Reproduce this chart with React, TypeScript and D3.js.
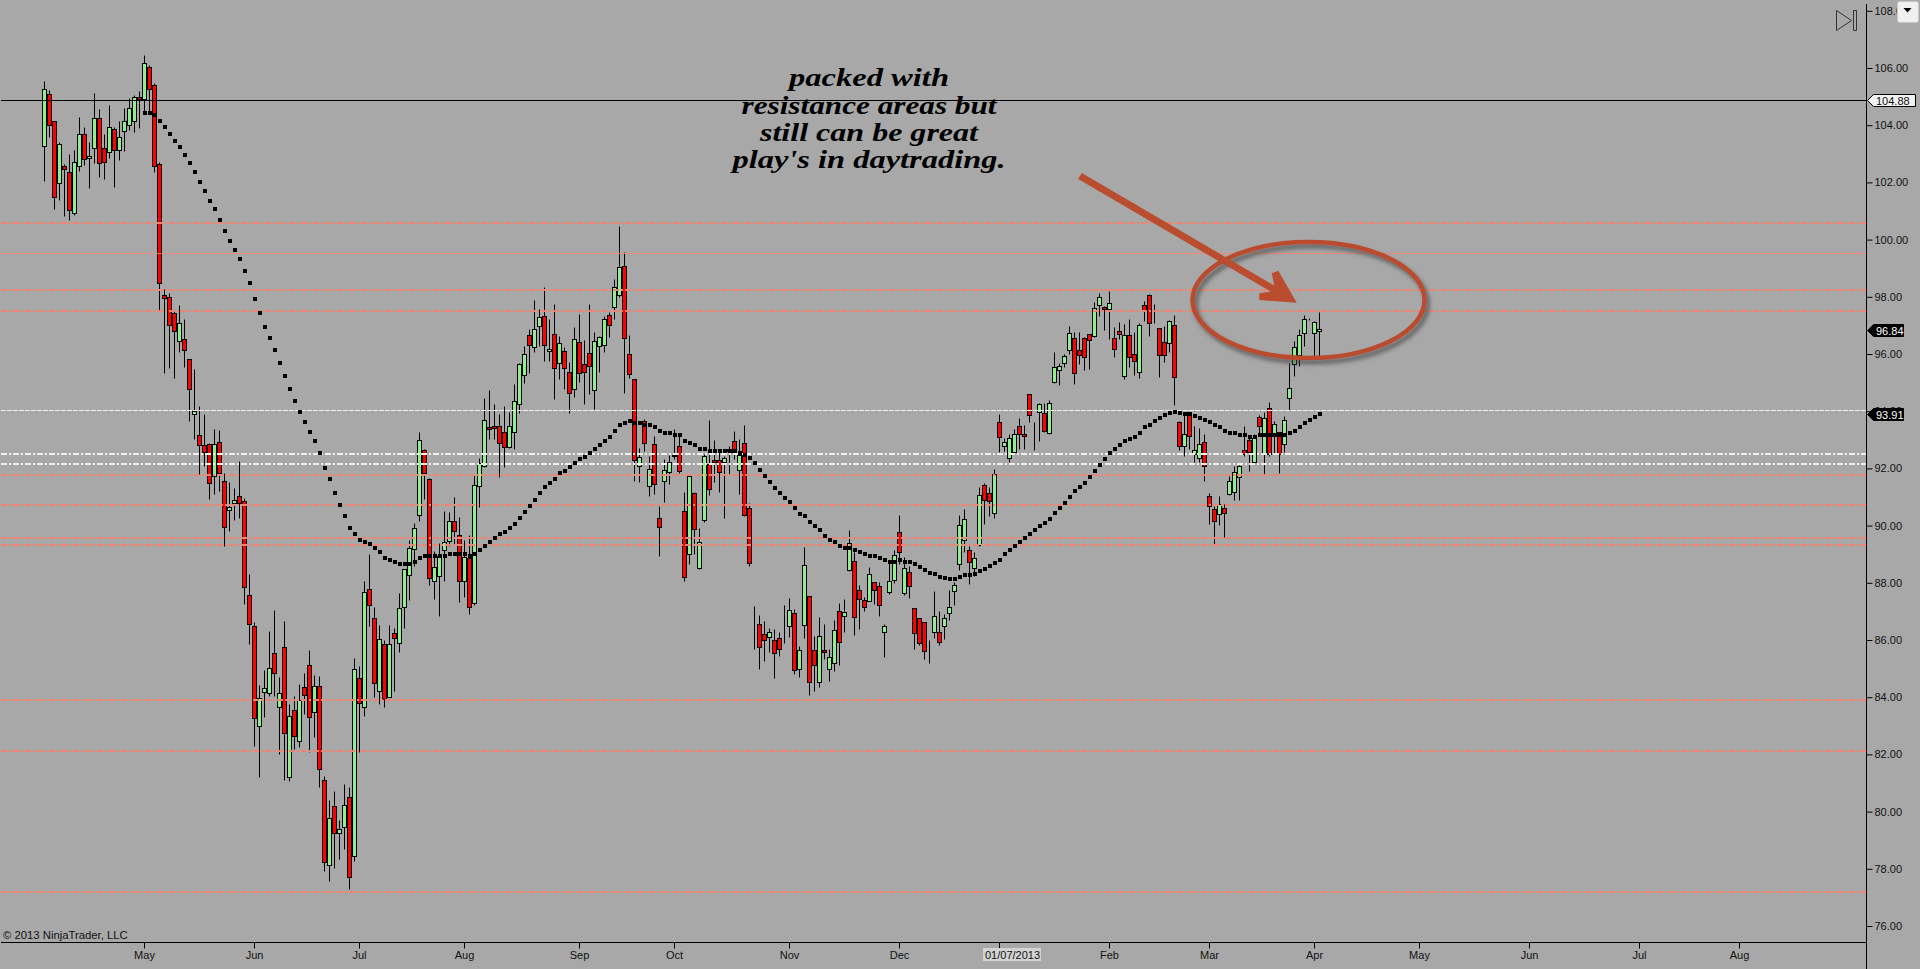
import { useEffect, useRef } from "react";
import * as d3 from "d3";

const highs = [
  105.54,105.23,104.13,103.43,102.64,102.98,103.15,104.27,103.92,103.40,
  105.11,104.55,103.68,104.69,103.92,104.13,104.59,104.94,105.04,105.19,
  106.45,106.10,105.47,102.73,98.27,98.15,97.51,97.71,97.22,95.84,
  95.49,94.17,93.89,92.88,93.37,93.33,91.85,91.54,91.33,92.25,
  90.95,88.31,86.62,84.43,84.95,86.30,87.05,84.70,86.65,83.76,
  84.03,84.46,84.84,85.64,84.78,84.74,81.23,80.41,80.72,79.72,
  80.97,80.86,85.36,85.08,88.05,89.01,87.14,86.54,85.99,86.54,
  86.41,87.64,88.50,89.50,90.09,93.26,92.68,91.65,89.10,89.38,
  90.50,90.46,90.99,90.31,89.50,89.67,91.77,92.36,94.45,94.73,
  94.24,93.90,94.18,93.96,94.95,95.67,96.29,96.87,97.89,97.57,
  98.33,97.21,97.74,96.62,96.23,95.71,96.93,97.39,96.48,97.74,
  96.76,96.62,97.34,97.46,98.61,100.46,99.55,96.65,95.13,92.70,
  93.73,92.44,93.12,90.70,92.33,92.48,93.38,93.14,91.16,91.75,
  91.16,89.92,92.49,93.69,93.00,92.62,92.44,92.79,93.32,93.03,
  93.52,90.78,87.19,86.88,86.67,86.41,86.39,86.27,87.23,87.47,
  87.09,85.78,89.25,87.55,86.15,86.80,86.56,85.69,86.70,87.28,
  87.42,89.85,89.07,87.91,87.49,88.54,88.02,88.02,86.56,88.78,
  89.15,90.36,88.89,88.60,87.11,86.76,86.64,86.00,87.72,87.02,
  86.91,87.74,88.02,90.36,90.58,89.30,89.07,91.34,91.48,91.34,
  91.97,93.90,93.08,93.20,93.38,93.75,93.53,94.61,93.61,94.28,
  94.28,94.38,96.06,95.68,96.00,96.99,96.76,96.76,96.58,96.71,
  97.83,98.15,97.69,98.21,96.93,97.13,97.05,97.24,96.76,97.10,
  97.86,98.10,97.75,96.90,96.99,97.20,97.36,93.67,93.96,93.98,
  93.47,93.41,93.19,91.13,90.69,91.02,90.75,91.74,92.07,92.12,
  93.49,93.14,93.20,93.86,93.96,94.31,93.67,93.26,93.84,95.68,
  96.46,96.87,97.38,97.26,97.17,97.46,
];

const bodyTops = [
  105.25,105.08,104.13,103.33,102.57,102.35,102.73,103.68,103.68,102.94,
  104.24,104.24,103.22,103.92,103.85,103.57,104.13,104.59,104.97,104.97,
  106.19,106.02,105.42,102.63,98.08,97.98,97.42,97.10,96.54,95.81,
  93.99,93.18,92.81,92.86,92.87,92.91,91.55,90.66,90.88,91.02,
  90.87,87.56,86.48,83.98,84.31,85.03,85.53,84.14,85.74,83.33,
  83.54,83.91,84.35,85.11,84.38,84.38,81.09,79.77,80.21,79.38,
  80.22,80.50,84.97,84.66,87.67,87.77,86.76,86.02,85.85,85.85,
  86.23,87.11,88.47,89.23,89.91,92.98,92.63,91.62,88.54,88.95,
  89.42,90.15,90.15,89.68,88.91,88.88,91.41,92.18,93.68,93.44,
  93.47,93.47,93.26,93.47,94.34,95.64,96.01,96.65,96.86,97.28,
  97.32,96.16,96.69,96.37,96.09,95.36,96.51,96.41,95.64,96.02,
  96.44,96.58,97.21,97.35,98.33,99.03,99.06,96.01,95.11,92.39,
  93.67,91.97,92.84,90.25,91.93,92.21,92.48,92.77,90.50,91.72,
  91.13,89.44,92.42,92.14,92.28,92.29,92.35,92.67,92.95,92.46,
  92.88,90.60,86.70,86.55,86.22,86.27,85.99,86.06,86.26,87.06,
  86.94,85.64,88.61,87.55,85.66,86.13,85.66,85.40,86.34,87.01,
  86.97,89.38,88.75,87.74,87.39,88.30,88.02,87.90,86.48,88.05,
  88.96,89.77,88.51,88.39,87.11,86.76,86.62,85.80,86.83,86.27,
  86.76,87.14,87.91,90.01,90.22,89.14,88.86,91.06,91.41,91.13,
  91.80,93.61,92.93,93.08,93.19,93.47,93.19,94.59,93.60,94.24,
  93.92,94.27,95.53,95.59,95.92,96.72,96.55,96.13,96.55,96.69,
  97.62,97.98,97.65,97.79,96.55,96.79,96.65,96.65,95.99,97.03,
  97.70,98.05,97.29,96.90,96.41,97.14,97.00,93.61,93.19,93.96,
  92.66,92.84,92.91,91.02,90.57,90.75,90.60,91.55,91.88,92.07,
  92.66,93.01,93.05,93.78,93.75,94.10,93.54,93.26,93.68,94.80,
  96.23,96.65,97.24,97.26,97.11,96.86,
];

const bodyBottoms = [
  103.28,104.01,101.50,101.99,102.48,101.04,100.94,102.56,102.83,102.84,
  103.19,102.69,102.73,103.08,103.12,103.12,103.78,103.99,104.13,104.90,
  104.90,105.25,102.56,98.49,97.97,97.02,96.81,96.46,96.15,94.78,
  93.91,92.83,92.58,91.50,91.72,91.85,89.94,90.56,90.80,90.78,
  87.84,86.55,83.26,82.98,84.17,84.14,84.84,83.65,82.74,81.20,
  82.63,82.46,84.07,83.30,83.47,81.48,78.23,78.12,79.24,79.24,
  79.47,77.70,78.46,83.79,83.67,87.24,84.49,84.23,83.93,84.02,
  86.08,85.88,87.14,88.29,89.17,90.36,91.85,88.16,88.08,88.23,
  89.13,89.45,89.80,88.07,88.07,87.14,87.28,91.37,92.07,93.37,
  93.40,92.90,92.76,92.74,93.26,94.24,95.25,96.30,96.23,96.97,
  96.30,96.09,95.50,95.67,95.50,94.62,94.76,95.32,95.38,95.57,
  94.73,96.27,96.30,97.03,97.63,98.05,96.55,95.29,92.28,92.07,
  92.90,91.37,91.47,89.94,91.55,91.86,92.45,91.92,88.21,89.00,
  89.89,88.53,90.21,91.27,92.21,91.86,92.21,92.60,92.56,91.93,
  90.38,88.70,86.70,85.77,85.99,86.10,85.54,85.68,86.26,86.48,
  84.94,84.98,86.52,84.52,85.12,84.52,85.57,84.98,85.19,85.92,
  86.83,88.44,86.80,87.42,87.14,87.37,87.74,87.21,86.27,87.69,
  88.11,89.06,87.66,87.88,86.26,85.91,85.61,85.80,86.27,85.92,
  86.48,86.96,87.70,88.67,89.49,88.71,88.51,89.31,90.89,90.85,
  90.43,93.11,92.80,92.38,92.56,93.22,93.12,93.85,93.60,93.96,
  93.32,93.25,95.01,95.45,95.67,96.13,95.34,95.95,95.90,96.48,
  96.62,97.70,97.56,97.56,96.18,96.69,95.22,95.88,95.74,95.36,
  97.50,97.07,97.29,95.95,95.97,96.37,95.21,92.80,92.77,93.12,
  92.52,92.38,92.07,90.69,90.15,90.39,90.43,91.09,91.16,91.69,
  92.52,92.56,92.24,93.49,92.50,92.51,93.12,92.51,92.86,94.47,
  95.64,95.95,96.72,97.26,96.72,96.79,
];

const lows = [
  102.06,103.60,101.07,101.38,100.83,100.68,100.87,102.39,102.60,101.81,
  102.67,102.18,102.11,102.85,101.84,102.78,103.09,103.84,103.76,103.91,
  104.45,104.50,102.37,97.55,95.34,95.51,95.16,96.08,95.55,93.67,
  93.02,91.80,92.09,90.93,91.10,91.22,89.30,89.82,90.21,90.28,
  87.26,85.86,82.31,81.22,83.32,84.05,84.05,82.01,81.12,81.08,
  82.19,82.27,83.41,82.07,82.60,80.87,77.94,77.59,78.04,78.34,
  78.69,77.29,78.29,82.07,83.34,86.50,84.02,83.75,83.66,84.00,
  84.23,85.59,86.43,87.41,88.60,90.17,90.93,87.93,87.43,86.85,
  88.08,89.30,89.36,87.32,87.52,86.91,87.24,90.64,92.04,93.03,
  93.03,91.71,92.06,92.70,92.68,93.94,95.00,95.35,96.07,96.29,
  95.77,95.77,94.44,95.13,94.78,93.95,94.48,95.01,94.25,94.60,
  94.08,95.36,96.06,96.58,97.22,97.98,94.65,95.17,91.57,91.51,
  92.60,91.05,91.10,88.95,90.81,91.45,92.33,91.84,88.07,88.66,
  89.01,88.50,90.11,91.07,91.51,91.16,90.27,91.80,92.33,91.10,
  90.35,88.60,85.69,84.97,85.25,85.57,84.67,85.44,85.90,86.10,
  84.81,84.72,86.07,84.06,84.23,84.37,85.34,84.58,84.93,85.11,
  86.27,88.42,86.19,86.39,87.03,87.35,87.26,86.85,85.39,87.62,
  88.01,88.66,87.59,87.48,85.69,85.83,85.33,85.21,86.07,85.84,
  86.04,86.70,87.23,88.46,89.07,87.97,88.23,89.29,90.06,90.35,
  90.28,92.57,92.61,92.23,92.54,92.68,92.68,93.63,92.64,92.96,
  93.26,93.22,95.00,94.91,95.55,96.01,94.95,95.65,95.45,95.47,
  96.60,97.34,96.85,96.52,95.90,96.52,95.12,95.53,95.26,95.16,
  97.16,96.64,97.10,95.21,95.71,96.06,94.21,92.64,92.44,92.68,
  92.21,92.21,91.57,90.05,89.35,90.03,89.59,91.07,90.90,90.90,
  92.44,91.91,92.18,93.14,91.81,92.44,92.50,91.84,92.56,94.03,
  95.24,95.59,96.29,97.20,95.94,95.94,
];

// G = up bar, R = down bar
const directions =
  "GRRGRRGGRG" + "GRRGRGGGGR" + "GRRRRRRGRR" + "GRRRGRRGGR" + "RRRGGGRGRG" +
  "RGRRGRRGRG" + "GRGRGRRGRG" + "RGGGGGRRGG" + "GGRRGRGGGR" + "RRRGGGGRGG" +
  "RGRGRRGRRR" + "GGGRGGRRRG" + "RGRRGGRRRG" + "RGGRRRGGRG" + "RRRRRGRRRG" +
  "RGGRRGRGGR" + "GGRRRGRRGG" + "GRGRRRRRGR" + "GGGGGRGGRR" + "GRGGGRRRRG" +
  "RGGGGGRRRR" + "GGRGRRGRRG" + "RRRRRGRRGR" + "GGRRRGRGGG" + "RRGRGRGRGG" +
  "GGGGGG";

// moving average, starts at bar 20
const maStart = 20;
const maValues = [
  104.46,104.46,104.39,104.18,103.97,103.72,103.48,103.27,102.99,102.71,
  102.39,102.04,101.73,101.35,101.07,100.72,100.33,99.98,99.67,99.35,
  98.93,98.51,97.95,97.46,96.97,96.56,96.14,95.72,95.26,94.81,
  94.39,94.00,93.65,93.30,92.99,92.57,92.04,91.63,91.17,90.75,
  90.37,89.92,89.74,89.53,89.46,89.39,89.22,89.11,88.90,88.80,
  88.73,88.66,88.66,88.66,88.73,88.87,88.97,88.94,88.94,88.94,
  88.94,89.01,89.04,89.01,89.01,88.94,89.01,89.15,89.29,89.43,
  89.57,89.71,89.81,89.95,90.09,90.30,90.51,90.72,90.93,91.14,
  91.35,91.52,91.66,91.84,91.94,92.05,92.22,92.33,92.43,92.54,
  92.68,92.82,92.99,93.13,93.31,93.52,93.62,93.69,93.62,93.59,
  93.55,93.52,93.45,93.31,93.27,93.24,93.20,93.17,92.99,92.92,
  92.82,92.71,92.71,92.64,92.64,92.61,92.61,92.61,92.61,92.57,
  92.50,92.37,92.19,91.95,91.74,91.53,91.32,91.14,90.97,90.83,
  90.62,90.44,90.37,90.16,89.99,89.85,89.67,89.53,89.43,89.29,
  89.22,89.22,89.15,89.08,89.01,88.97,88.94,88.87,88.80,88.76,
  88.76,88.80,88.76,88.73,88.66,88.56,88.45,88.35,88.31,88.21,
  88.17,88.14,88.14,88.21,88.28,88.28,88.31,88.42,88.49,88.59,
  88.70,88.83,89.01,89.15,89.29,89.43,89.57,89.71,89.85,90.02,
  90.12,90.26,90.47,90.65,90.82,91.03,91.21,91.38,91.52,91.70,
  91.91,92.15,92.33,92.54,92.68,92.82,92.96,93.06,93.13,93.27,
  93.45,93.55,93.69,93.79,93.90,93.97,94.00,93.97,93.93,93.93,
  93.86,93.79,93.72,93.65,93.55,93.45,93.34,93.27,93.24,93.20,
  93.17,93.13,93.13,93.17,93.17,93.17,93.17,93.17,93.17,93.24,
  93.34,93.45,93.59,93.72,93.83,93.91,
];

const resistanceThick = [100.6, 98.26, 97.52, 91.79, 90.74, 89.58, 89.35, 83.93, 82.14, 77.21];
const resistanceThin = [99.52];
const supportThick = [92.52, 92.17];
const supportThin = [94.03];
const lastLevel = 104.88;
const lastClose = 96.84;

const yTicks = d3.range(76, 109, 2);
const monthBars = [20, 42, 63, 84, 107, 126, 149, 171, 213, 233, 254, 275, 297, 319, 339];
const monthLabels = ["May", "Jun", "Jul", "Aug", "Sep", "Oct", "Nov", "Dec", "Feb", "Mar", "Apr", "May", "Jun", "Jul", "Aug"];
const dateBar = 191;
const noteLines = ["packed with", "resistance areas but", "still can be great", "play's in daytrading."];

const SANS = "'Liberation Sans', Arial, sans-serif";
const BG = "#a8a8a8";
const RUST = "#ba4c2f";

export default function App() {
  const chartRef = useRef<SVGSVGElement>(null);

  useEffect(() => {
    if (!chartRef.current) return;
    d3.select(chartRef.current).selectAll("*").remove();

    const width = 1920;
    const height = 969;
    const axisX = 1866.5;
    const axisY = 942.5;

    const svg = d3.select(chartRef.current);
    const x = d3.scaleLinear().domain([0, 255]).range([44.5, 1319.5]);
    const y = d3.scaleLinear().domain([108, 76]).range([11.3, 926.5]);
    const snap = (v: number) => Math.floor(v) + 0.5;

    svg.append("rect").attr("width", width).attr("height", height).attr("fill", BG);

    const defs = svg.append("defs");
    defs
      .append("filter")
      .attr("id", "shadow")
      .attr("x", "-10%")
      .attr("y", "-20%")
      .attr("width", "120%")
      .attr("height", "140%")
      .append("feDropShadow")
      .attr("dx", 3)
      .attr("dy", 4)
      .attr("stdDeviation", 2.2)
      .attr("flood-color", "#444")
      .attr("flood-opacity", 0.75);

    // Candles
    const bars = d3.range(highs.length);
    const candles = svg.append("g");
    candles
      .selectAll("line")
      .data(bars)
      .join("line")
      .attr("x1", (i) => x(i))
      .attr("x2", (i) => x(i))
      .attr("y1", (i) => snap(y(highs[i])))
      .attr("y2", (i) => snap(y(lows[i])))
      .attr("stroke", "#000")
      .attr("stroke-width", 1);
    candles
      .selectAll("rect")
      .data(bars)
      .join("rect")
      .attr("x", (i) => x(i) - 2)
      .attr("width", 4)
      .attr("y", (i) => snap(y(bodyTops[i])))
      .attr("height", (i) => snap(y(bodyBottoms[i])) - snap(y(bodyTops[i])))
      .attr("fill", (i) => (directions[i] === "G" ? "#90ee90" : "#ff0000"))
      .attr("stroke", "#000")
      .attr("stroke-width", 1);

    // Horizontal levels
    const levels = (values: number[], color: string, w: number, dash: string | null) =>
      svg
        .append("g")
        .selectAll("line")
        .data(values)
        .join("line")
        .attr("x1", 1)
        .attr("x2", axisX)
        .attr("y1", (d) => (w === 2 ? Math.round(y(d)) : snap(y(d))))
        .attr("y2", (d) => (w === 2 ? Math.round(y(d)) : snap(y(d))))
        .attr("stroke", color)
        .attr("stroke-width", w)
        .attr("stroke-dasharray", dash);
    levels(resistanceThin, "#ee8878", 1, null);
    levels(resistanceThick, "#f08470", 2, "6,2,2,2");
    levels(supportThin, "#f4f0ea", 1, "5,1");
    levels(supportThick, "#f4f0ea", 2, "6,2,2,2");
    levels([lastLevel], "#000", 1, null);

    // Moving average dots
    svg
      .append("g")
      .selectAll("rect")
      .data(maValues)
      .join("rect")
      .attr("x", (_, i) => x(i + maStart) - 1.5)
      .attr("y", (d) => Math.round(y(d)) - 2)
      .attr("width", 4)
      .attr("height", 4)
      .attr("fill", "#000");

    // Note, arrow and ring
    svg
      .append("ellipse")
      .attr("cx", 1308.5)
      .attr("cy", 300)
      .attr("rx", 116)
      .attr("ry", 58)
      .attr("fill", "none")
      .attr("stroke", RUST)
      .attr("stroke-width", 4.5)
      .attr("filter", "url(#shadow)");
    svg
      .append("path")
      .attr(
        "d",
        "M1081.8 173 L1274.3 285.6 L1271.7 273.3 L1278.3 270.7 L1296.7 302.7 L1259.3 300 L1259.3 293.3 L1270.7 291.6 L1078.2 179 Z",
      )
      .attr("fill", RUST);

    const noteY = [86, 114, 141, 168];
    const noteWidths = [160, 255, 218, 273];
    svg
      .append("g")
      .selectAll("text")
      .data(noteLines)
      .join("text")
      .attr("x", 869)
      .attr("y", (_, i) => noteY[i])
      .attr("text-anchor", "middle")
      .attr("textLength", (_, i) => noteWidths[i])
      .attr("lengthAdjust", "spacingAndGlyphs")
      .style("font-family", "'Liberation Serif', serif")
      .style("font-style", "italic")
      .style("font-weight", "700")
      .style("font-size", "25px")
      .attr("fill", "#000")
      .text((d) => d);

    // Axes
    const yAxis = svg
      .append("g")
      .attr("transform", `translate(${axisX},0)`)
      .call(d3.axisRight(y).tickValues(yTicks).tickFormat(d3.format(".2f")).tickSize(6).offset(0));
    yAxis.select(".domain").remove();
    yAxis.selectAll("line").attr("stroke", "#000");
    yAxis
      .selectAll("text")
      .attr("x", 8)
      .attr("fill", "#111")
      .style("font-family", SANS)
      .style("font-size", "11px");

    const xAxis = svg
      .append("g")
      .attr("transform", `translate(0,${axisY})`)
      .call(
        d3
          .axisBottom(x)
          .tickValues(monthBars)
          .tickFormat((_, i) => monthLabels[i])
          .tickSize(6)
          .offset(0),
      );
    xAxis.select(".domain").remove();
    xAxis.selectAll("line").attr("stroke", "#000");
    xAxis
      .selectAll("text")
      .attr("y", 9)
      .attr("fill", "#111")
      .style("font-family", SANS)
      .style("font-size", "11px");

    // The date bar has its own tick and a highlighted label
    svg
      .append("line")
      .attr("x1", x(dateBar))
      .attr("x2", x(dateBar))
      .attr("y1", axisY)
      .attr("y2", axisY + 6)
      .attr("stroke", "#000");
    svg.append("rect").attr("x", 983).attr("y", 948).attr("width", 58).attr("height", 13).attr("fill", "#d3d3d3");
    svg
      .append("text")
      .attr("x", 985)
      .attr("y", 959)
      .attr("fill", "#111")
      .style("font-family", SANS)
      .style("font-size", "11px")
      .text("01/07/2013");

    svg.append("line").attr("x1", axisX).attr("x2", axisX).attr("y1", 4).attr("y2", height).attr("stroke", "#000");
    svg.append("line").attr("x1", 1).attr("x2", axisX).attr("y1", axisY).attr("y2", axisY).attr("stroke", "#000");

    svg
      .append("text")
      .attr("x", 3)
      .attr("y", 939)
      .attr("fill", "#111")
      .style("font-family", SANS)
      .style("font-size", "11.3px")
      .text("\u00a9 2013 NinjaTrader, LLC");

    // Price markers
    const marker = (value: number, right: number, fill: string, textFill: string) => {
      const my = snap(y(value));
      svg
        .append("path")
        .attr("d", `M1867.5 ${my} L1873.5 ${my - 6} H${right} V${my + 6} H1873.5 Z`)
        .attr("fill", fill)
        .attr("stroke", "#000");
      svg
        .append("text")
        .attr("x", 1876)
        .attr("y", my + 4)
        .attr("fill", textFill)
        .style("font-family", SANS)
        .style("font-size", "11px")
        .text(value.toFixed(2));
    };
    marker(lastLevel, 1915.5, "#f2f2f2", "#111");
    marker(lastClose, 1903.5, "#000", "#fff");
    marker(maValues[maValues.length - 1], 1903.5, "#000", "#fff");

    // Scroll icon and drop-down button
    svg
      .append("path")
      .attr("d", "M1836.5 10.5 V30.5 L1851.5 20.5 Z M1853.5 10.5 H1856.5 V30.5 H1853.5 Z")
      .attr("fill", "none")
      .attr("stroke", "#333");
    svg
      .append("rect")
      .attr("x", 1897.5)
      .attr("y", 1.5)
      .attr("width", 21)
      .attr("height", 21)
      .attr("rx", 2)
      .attr("fill", "#f0f0f0")
      .attr("stroke", "#c8c8c8");
    svg.append("path").attr("d", "M1903.5 8 H1911.5 L1907.5 12.5 Z").attr("fill", "#000");
  }, []);

  return (
    <svg
      ref={chartRef}
      width={1920}
      height={969}
      style={{ position: "absolute", left: 0, top: 0, display: "block" }}
    ></svg>
  );
}
